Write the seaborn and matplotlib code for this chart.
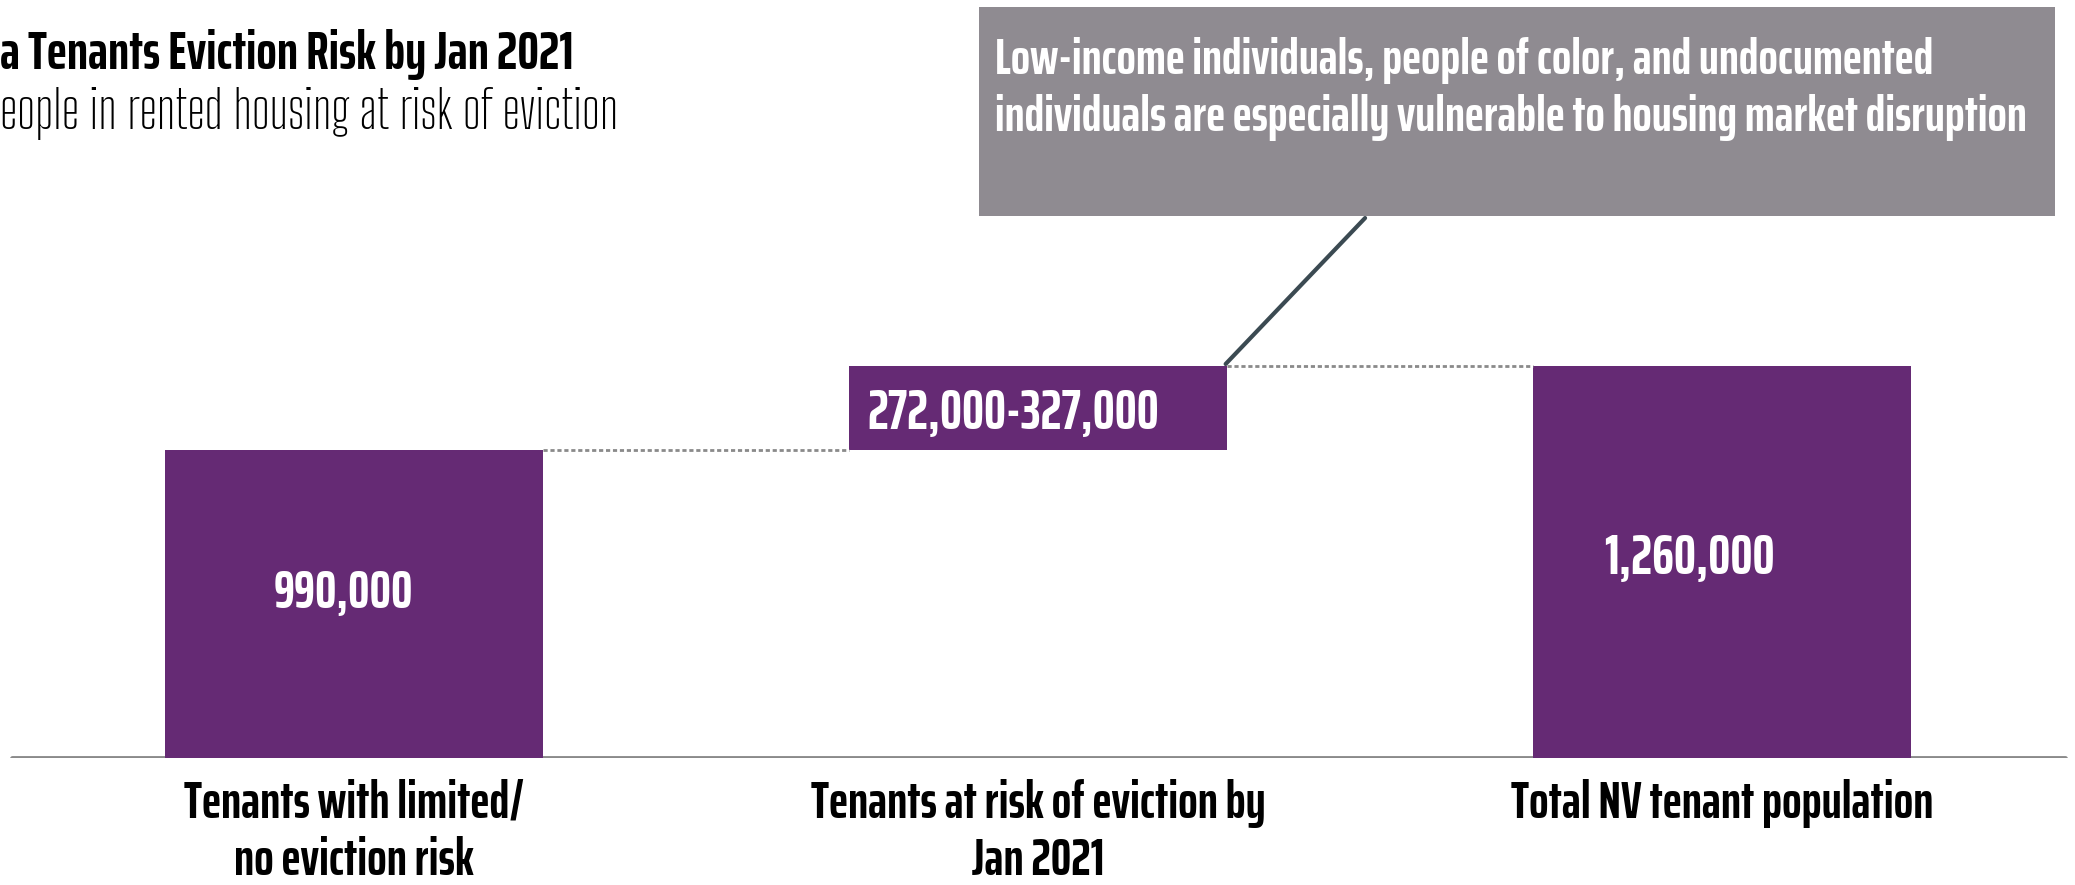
import matplotlib
matplotlib.use("Agg")
import matplotlib.pyplot as plt
import matplotlib.patches as mpatches
import seaborn as sns
import pandas as pd

# Data
categories = [
    "Tenants with limited/\nno eviction risk",
    "Tenants at risk of eviction by\nJan 2021",
    "Total NV tenant population",
]
limited_risk = 990000
total_tenants = 1260000
bar_heights = [limited_risk, total_tenants - limited_risk, total_tenants]
bar_bottoms = [0, limited_risk, 0]
bar_labels = ["990,000", "272,000-327,000", "1,260,000"]

title = "a Tenants Eviction Risk by Jan 2021"
subtitle = "eople in rented housing at risk of eviction"
callout = ("Low-income individuals, people of color, and undocumented\n"
           "individuals are especially vulnerable to housing market disruption")

PURPLE = "#652a74"
BOX_GRAY = "#8f8b91"

sns.set_theme(style="white")
plt.rcParams["font.family"] = ["Saira ExtraCondensed", "DejaVu Sans"]
THIN = ["Big Shoulders Text", "DejaVu Sans"]

W, H = 2075, 885
fig = plt.figure(figsize=(W / 100, H / 100), dpi=100)
ax = fig.add_axes([0, 127 / H, 1, 758 / H])

df = pd.DataFrame({"category": categories, "value": bar_heights})
bar_w = 0.553
sns.barplot(data=df, x="category", y="value", color=PURPLE, width=bar_w,
            saturation=1, errorbar=None, bottom=bar_bottoms, ax=ax,
            linewidth=0)

ax.set_xlim(-0.5175, 2.516)
ax.set_ylim(0, 2.4365e6)
ax.set_xlabel("")
ax.set_ylabel("")
ax.set_yticks([])
sns.despine(ax=ax, left=True, bottom=True)
ax.tick_params(axis="x", length=0, pad=15)
for lbl in ax.get_xticklabels():
    lbl.set_fontsize(37)
    lbl.set_fontweight("bold")
    lbl.set_linespacing(1.2)
    lbl.set_color("black")

# baseline
ax.axhline(0, xmin=0.006, xmax=0.995, color="#8a8a8a", linewidth=3.5, zorder=0)

# dotted connectors between bars
half = bar_w / 2
ax.hlines(limited_risk, 0 + half, 1 - half, colors="#8a8a8a",
          linestyles=(0, (1.5, 1)), linewidth=2)
ax.hlines(total_tenants, 1 + half, 2 - half, colors="#8a8a8a",
          linestyles=(0, (1.5, 1)), linewidth=2)

# value labels inside bars
ax.text(0 - 0.015, bar_bottoms[0] + bar_heights[0] * 0.535, bar_labels[0],
        ha="center", va="center", color="white", fontsize=38.5, fontweight="bold")
ax.text(1 - half + 0.027, bar_bottoms[1] + bar_heights[1] * 0.43, bar_labels[1],
        ha="left", va="center", color="white", fontsize=39.5, fontweight="bold")
ax.text(2 - 0.047, bar_bottoms[2] + bar_heights[2] * 0.51, bar_labels[2],
        ha="center", va="center", color="white", fontsize=40, fontweight="bold")

# titles
fig.text(0.0, 1 - 55 / H, title, ha="left", va="center", fontsize=38.8,
         fontweight="bold", color="black")
fig.text(0.0, 1 - 113 / H, subtitle, ha="left", va="center", fontsize=37.7,
         family=THIN, fontweight="light", color="black")

# callout box
box = mpatches.Rectangle((979 / W, 669 / H), 1076 / W, 209 / H,
                         transform=fig.transFigure, facecolor=BOX_GRAY,
                         edgecolor="none", zorder=2)
fig.patches.append(box)
txt = fig.text(995 / W, 1 - 89 / H, callout, ha="left", va="center",
               fontsize=36.5, fontweight="bold", color="white",
               linespacing=1.27, zorder=3)

# leader line from floating bar to callout box
ax.annotate("", xy=(1 + half - 0.005, total_tenants),
            xytext=(1367 / W, 669 / H), textcoords="figure fraction",
            arrowprops=dict(arrowstyle="-", color="#3b4a52", linewidth=3))

fig.savefig("out.png", dpi=100)
